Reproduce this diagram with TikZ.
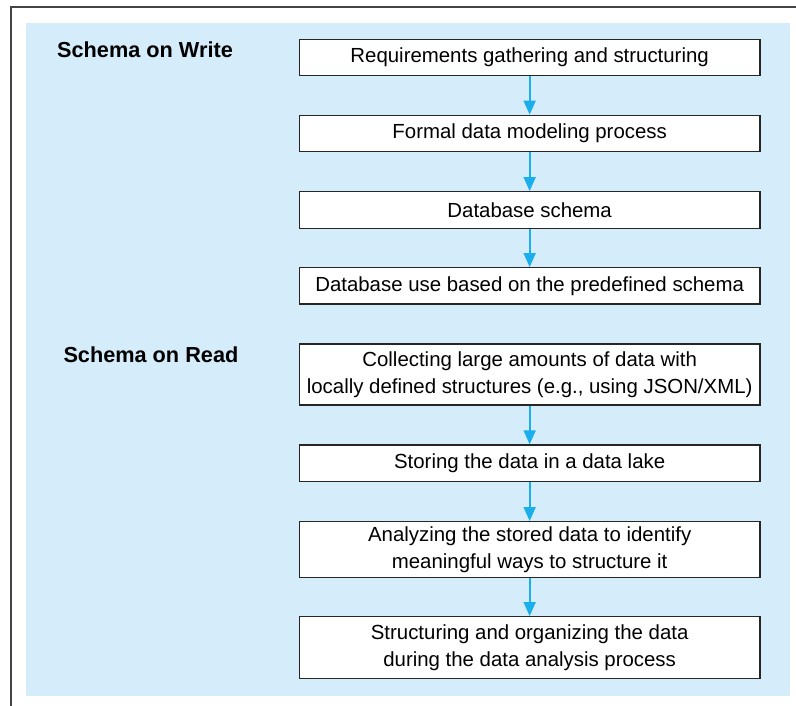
\documentclass[tikz,border=0pt]{standalone}
\usepackage{fontspec}
\setmainfont{Liberation Sans}
\usetikzlibrary{arrows.meta}
\definecolor{panelblue}{HTML}{D5ECFA}
\definecolor{arrowcyan}{HTML}{1BAEEC}
\definecolor{framegray}{HTML}{444444}
\tikzset{
  stepbox/.style={draw=black!85, line width=1.3pt, fill=white, minimum width=460.7pt,
    inner sep=0pt, align=center, font=\fontsize{20.4}{27}\selectfont},
  flow/.style={draw=arrowcyan, line width=1.8pt, -{Triangle[width=12pt,length=14pt]}},
  heading/.style={anchor=base west, inner sep=0pt, font=\bfseries\fontsize{21.7}{25}\selectfont}
}
\begin{document}
\begin{tikzpicture}[x=1pt,y=-1pt]
\useasboundingbox (0,0) rectangle (796,706);
\draw[framegray, line width=2pt] (11,706) -- (11,7) -- (796,7);
\fill[panelblue] (26,23) rectangle (790,696);
\node[heading] (sw) at (57,57.3) {Schema on Write};
\node[heading] (sr) at (63.3,362.7) {Schema on Read};
\node[stepbox, minimum height=36pt] (b1) at (529.65,57.3) {Requirements gathering and structuring};
\node[stepbox, minimum height=36.4pt] (b2) at (529.65,133.5) {Formal data modeling process};
\node[stepbox, minimum height=36.6pt] (b3) at (529.65,210) {Database schema};
\node[stepbox, minimum height=36.3pt] (b4) at (529.65,285.9) {Database use based on the predefined schema};
\node[stepbox, minimum height=61pt] (b5) at (529.65,374.5) {Collecting large amounts of data with\\locally defined structures (e.g., using JSON/XML)};
\node[stepbox, minimum height=36.7pt] (b6) at (529.65,463.35) {Storing the data in a data lake};
\node[stepbox, minimum height=55.6pt] (b7) at (529.65,549.5) {Analyzing the stored data to identify\\meaningful ways to structure it};
\node[stepbox, minimum height=61.6pt] (b8) at (529.65,647.5) {Structuring and organizing the data\\during the data analysis process};
\draw[flow] (b1.south) -- (b2.north);
\draw[flow] (b2.south) -- (b3.north);
\draw[flow] (b3.south) -- (b4.north);
\draw[flow] (b5.south) -- (b6.north);
\draw[flow] (b6.south) -- (b7.north);
\draw[flow] (b7.south) -- (b8.north);
\end{tikzpicture}
\end{document}
